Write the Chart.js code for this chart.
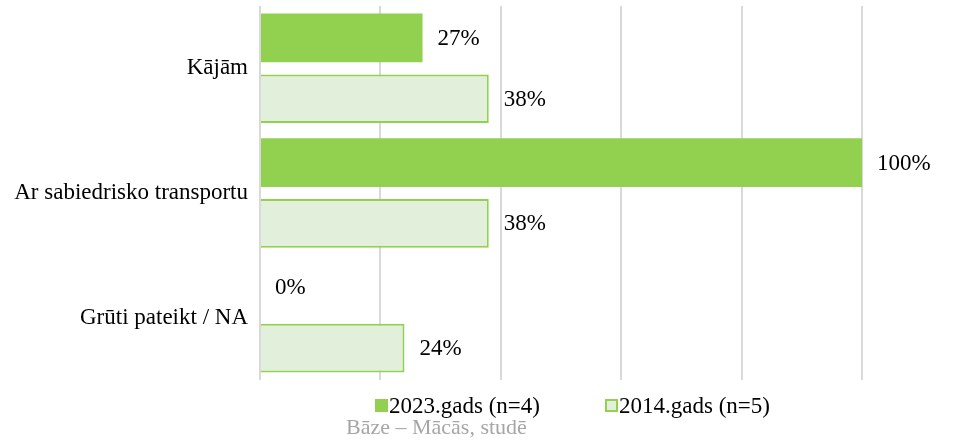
<!DOCTYPE html>
<html>
<head>
<meta charset="utf-8">
<script src="https://cdn.jsdelivr.net/npm/chart.js@4/dist/chart.umd.min.js"></script>
<style>
  body { margin: 0; background: #fff; }
</style>
</head>
<body>
<canvas id="grafiks" width="974" height="441"></canvas>
<script>
const kategorijas = ['Kājām', 'Ar sabiedrisko transportu', 'Grūti pateikt / NA'];
const sērijas = ['2023.gads (n=4)', '2014.gads (n=5)'];
const dati2023 = [27, 100, 0];
const dati2014 = [38, 38, 24];
const asisVertibas = [0, 20, 40, 60, 80, 100];
const baze = 'Bāze – Mācās, studē';

const zals = '#92D050';
const gaiss = '#E2EFDA';
const burti = '"Liberation Serif", "Times New Roman", serif';

// vērtību uzraksti pie stabiņu galiem
const vertibuUzraksti = {
    id: 'vertibuUzraksti',
    afterDatasetsDraw(chart) {
        const ctx = chart.ctx;
        ctx.save();
        ctx.font = '23px ' + burti;
        ctx.fillStyle = '#000';
        ctx.textAlign = 'left';
        ctx.textBaseline = 'middle';
        chart.data.datasets.forEach((ds, i) => {
            chart.getDatasetMeta(i).data.forEach((el, j) => {
                ctx.fillText(ds.data[j] + '%', el.x + 15, el.y + 1);
            });
        });
        ctx.restore();
    }
};

// leģenda un bāzes paraksts apakšā
const apaksa = {
    id: 'apaksa',
    afterDraw(chart) {
        const ctx = chart.ctx;
        ctx.save();
        ctx.font = '23px ' + burti;
        ctx.textBaseline = 'middle';
        ctx.textAlign = 'left';
        const y = 406;
        const xs = [375, 605];
        chart.data.datasets.forEach((ds, i) => {
            const x = xs[i];
            ctx.fillStyle = ds.backgroundColor;
            ctx.fillRect(x, y - 7, 13, 13);
            if (ds.borderWidth) {
                ctx.strokeStyle = ds.borderColor;
                ctx.lineWidth = 2;
                ctx.strokeRect(x + 1, y - 6, 11, 11);
            }
            ctx.fillStyle = '#000';
            ctx.fillText(ds.label, x + 14, y + 1);
        });
        ctx.font = '22px ' + burti;
        ctx.fillStyle = '#A6A6A6';
        ctx.fillText(baze, 346, 428);
        ctx.restore();
    }
};

new Chart(document.getElementById('grafiks'), {
    type: 'bar',
    data: {
        labels: kategorijas,
        datasets: [{
            label: sērijas[0],
            data: dati2023,
            backgroundColor: zals,
            borderWidth: 0
        }, {
            label: sērijas[1],
            data: dati2014,
            backgroundColor: gaiss,
            borderColor: zals,
            borderWidth: 2
        }]
    },
    options: {
        indexAxis: 'y',
        responsive: false,
        animation: false,
        devicePixelRatio: 1,
        barPercentage: 0.8,
        categoryPercentage: 0.976,
        layout: { padding: { top: 6, right: 112, bottom: 61, left: 0 } },
        plugins: {
            legend: { display: false },
            tooltip: { enabled: false }
        },
        scales: {
            x: {
                min: asisVertibas[0],
                max: asisVertibas[asisVertibas.length - 1],
                afterBuildTicks: (s) => { s.ticks = asisVertibas.map(v => ({ value: v })); },
                ticks: { display: false },
                grid: { color: '#D9D9D9', lineWidth: 2, drawTicks: false },
                border: { display: false },
                afterFit: (s) => { s.height = 0; s.paddingLeft = 0; s.paddingRight = 0; }
            },
            y: {
                grid: { display: false, drawTicks: false },
                border: { display: false },
                ticks: {
                    color: '#000',
                    padding: 12,
                    font: { family: burti, size: 23 }
                },
                afterFit: (s) => { s.width = 260; s.paddingTop = 0; s.paddingBottom = 0; }
            }
        }
    },
    plugins: [vertibuUzraksti, apaksa]
});
</script>
</body>
</html>
